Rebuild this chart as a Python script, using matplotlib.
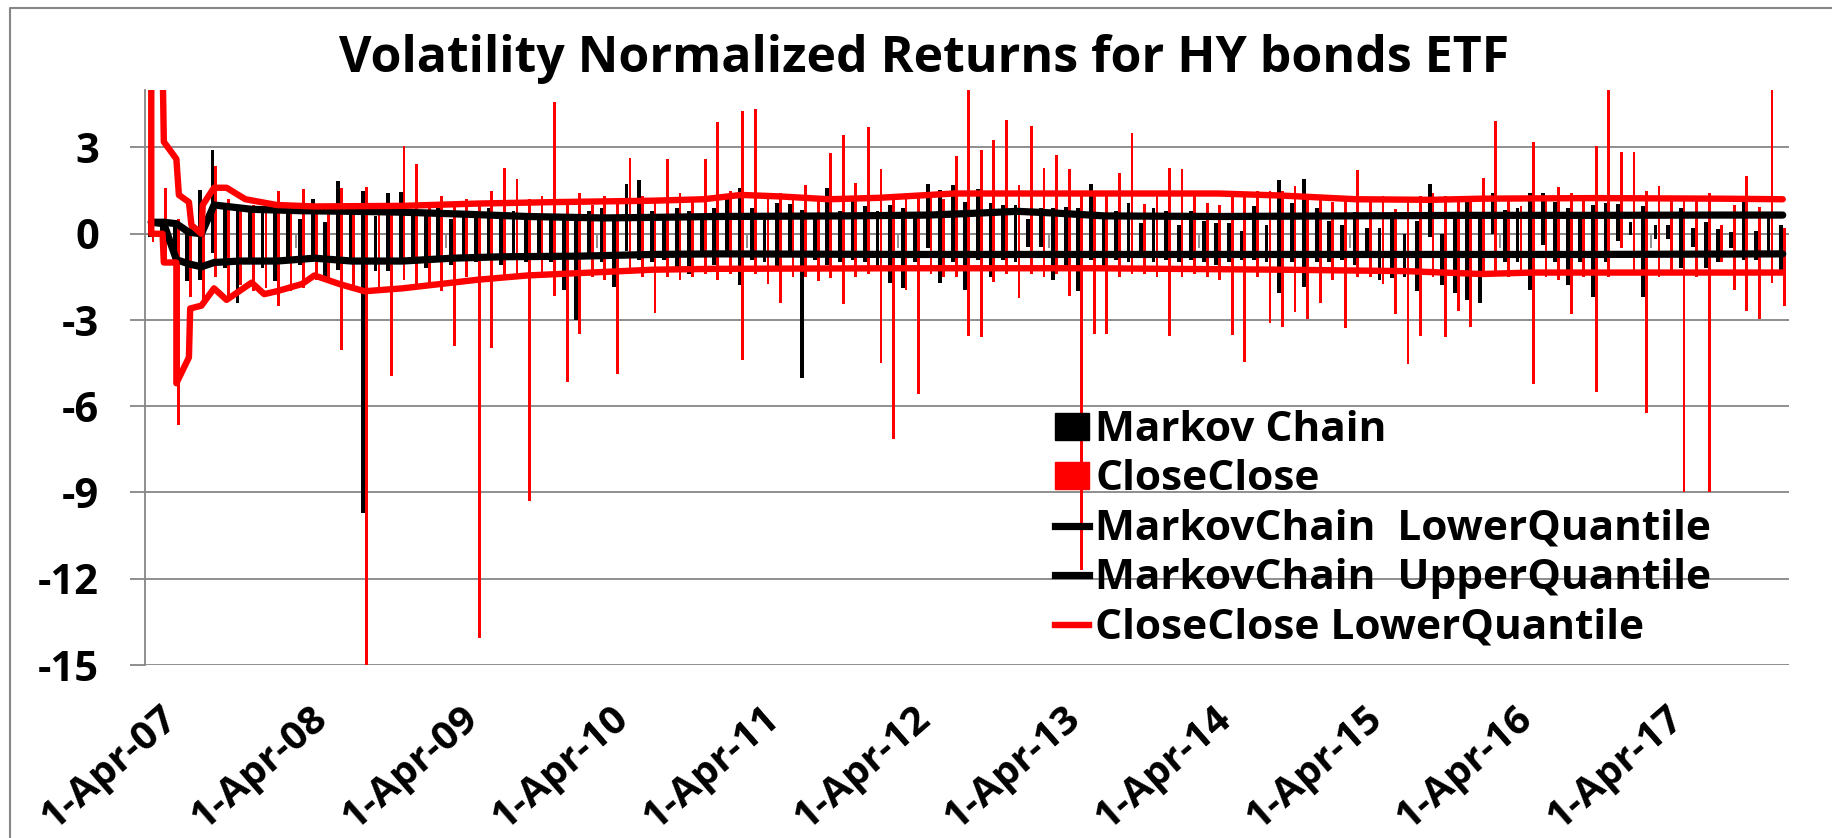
import matplotlib
matplotlib.use("Agg")
import matplotlib.pyplot as plt
from matplotlib.lines import Line2D
from matplotlib.patches import Patch
from matplotlib.transforms import ScaledTranslation
import numpy as np
import pandas as pd

plt.rcParams['font.family'] = ['Open Sans', 'DejaVu Sans']
plt.rcParams['font.weight'] = 'bold'
plt.rcParams['axes.unicode_minus'] = False

# monthly categories, Apr-07 .. Feb-18
months = pd.date_range('2007-04-01', periods=131, freq='MS')

# range of the daily values inside each month (overlapping columns in the original)
mc_hi = [0.35, 0.4, 0.3, 0.2, 1.53, 2.93, 1.0, 0.84, 0.9, 0.8,
         0.97, 0.8, 0.5, 1.2, 0.4, 1.82, 0.8, 1.48, 0.6, 1.4,
         1.45, 0.7, 0.6, 0.9, 0.5, 0.8, 0.7, 0.9, 0.6, 0.8,
         0.6, 0.5, 0.7, 0.6, 0.5, 0.8, 0.9, 0.5, 1.72, 1.88,
         0.8, 0.6, 0.9, 0.8, 0.7, 0.9, 1.2, 1.6, 0.9, 0.7,
         1.07, 1.05, 0.83, 0.7, 1.6, 0.8, 1.3, 0.98, 0.8, 1.0,
         0.9, 0.7, 1.72, 1.52, 1.7, 1.1, 1.56, 1.07, 1.0, 1.0,
         0.5, 0.9, 0.9, 0.93, 0.9, 1.72, 0.5, 0.8, 1.07, 0.38,
         0.9, 0.8, 0.3, 0.8, 0.45, 0.38, 0.38, 0.1, 0.98, 0.3,
         1.86, 1.07, 1.9, 0.9, 0.45, 0.3, 0.75, 0.2, 0.2, 0.5,
         0.0, 0.45, 1.72, 0.0, 0.5, 1.25, 0.7, 1.42, 0.83, 0.9,
         1.42, 1.42, 1.1, 0.9, 0.5, 1.0, 1.08, 1.05, 0.4, 0.98,
         0.3, 0.3, 0.9, 0.2, 0.4, 0.15, 0.05, 1.1, 0.1, 0.6,
         0.3]
mc_lo = [-0.1, -0.5, -1.0, -1.63, -1.6, -0.67, -1.2, -2.42, -1.0, -1.2,
         -1.63, -0.9, -1.1, -0.8, -1.5, -1.26, -1.0, -9.7, -1.3, -1.3,
         -0.9, -1.0, -1.2, -1.0, -1.1, -0.8, -1.0, -0.9, -1.1, -0.7,
         -1.0, -0.9, -1.0, -1.95, -3.0, -0.8, -1.0, -1.86, -0.6, -0.9,
         -1.0, -0.9, -1.2, -1.4, -0.8, -1.1, -0.8, -1.8, -0.9, -1.0,
         -1.2, -0.8, -5.03, -0.9, -1.1, -1.0, -0.9, -1.0, -1.2, -1.7,
         -1.9, -1.0, -0.5, -1.7, -1.0, -1.95, -0.9, -1.5, -0.9, -1.0,
         -0.45, -0.45, -1.6, -1.2, -2.0, -0.9, -1.2, -0.9, -1.0, -0.8,
         -1.0, -0.9, -1.0, -0.9, -1.0, -1.1, -1.0, -0.9, -0.9, -1.0,
         -2.07, -1.0, -1.84, -1.0, -1.0, -0.9, -1.1, -0.85, -1.6, -1.55,
         -1.5, -2.0, -0.13, -1.8, -2.07, -2.3, -2.4, 0.0, -1.0, -1.0,
         -1.95, -0.4, -1.0, -1.8, -1.0, -2.2, -1.0, -0.25, -0.05, -2.2,
         -0.2, -0.2, -1.2, -0.45, -1.2, -1.0, -0.5, -0.9, -0.9, -0.7,
         -1.3]
cc_hi = [0.2, 1.59, 0.5, 0.5, 1.0, 2.35, 1.2, 0.9, 1.0, 1.0,
         1.5, 0.9, 1.57, 1.0, 0.9, 1.6, 1.0, 1.61, 0.9, 0.9,
         3.05, 2.44, 1.0, 1.3, 1.1, 1.2, 1.0, 1.5, 2.27, 1.9,
         1.2, 1.3, 4.58, 1.0, 1.4, 1.0, 1.3, 1.1, 2.64, 1.3,
         1.2, 2.6, 1.4, 1.2, 2.6, 3.88, 1.5, 4.27, 4.33, 1.3,
         1.4, 1.3, 1.68, 1.3, 2.81, 3.42, 1.77, 3.71, 2.25, 1.3,
         1.2, 1.3, 1.3, 1.2, 2.72, 5.0, 2.91, 3.25, 3.97, 1.68,
         3.74, 2.30, 2.75, 2.25, 1.4, 1.3, 1.4, 2.11, 3.51, 1.04,
         1.4, 2.29, 2.25, 1.4, 1.07, 1.0, 1.4, 1.3, 1.48, 1.5,
         1.5, 1.66, 1.3, 1.3, 1.1, 1.3, 2.23, 1.2, 1.3, 0.86,
         1.2, 1.3, 1.4, 1.3, 1.2, 1.3, 1.94, 3.92, 1.2, 0.95,
         3.2, 1.3, 1.62, 1.4, 1.3, 3.05, 5.0, 2.83, 2.86, 1.5,
         1.65, 1.2, 1.3, 1.2, 1.4, 0.3, 1.0, 2.0, 0.93, 5.0,
         0.2]
cc_lo = [-0.3, -0.9, -6.66, -2.2, -2.4, -1.5, -2.2, -1.8, -2.0, -1.9,
         -2.5, -2.0, -1.9, -1.6, -1.7, -4.05, -1.8, -15.0, -2.0, -4.95,
         -1.6, -1.8, -1.7, -2.0, -3.9, -1.5, -14.06, -3.96, -1.6, -1.5,
         -9.28, -1.4, -2.17, -5.15, -3.5, -1.5, -1.6, -4.88, -1.4, -1.5,
         -2.77, -1.5, -1.6, -1.5, -1.4, -1.6, -1.4, -4.4, -1.4, -1.74,
         -2.4, -1.5, -1.5, -1.64, -1.55, -2.45, -1.5, -1.4, -4.49, -7.13,
         -1.95, -5.59, -1.4, -1.5, -1.5, -3.55, -3.6, -1.69, -1.4, -2.24,
         -1.4, -1.5, -1.4, -2.17, -11.7, -3.5, -3.5, -1.5, -1.4, -1.4,
         -1.5, -3.55, -1.5, -1.4, -1.5, -1.6, -3.52, -4.45, -1.5, -3.1,
         -3.25, -2.72, -2.95, -2.4, -1.6, -3.27, -1.5, -1.5, -1.74, -2.8,
         -4.53, -3.55, -1.5, -3.6, -2.7, -3.25, -1.5, -1.4, -1.5, -1.4,
         -5.23, -1.5, -1.6, -2.8, -1.5, -5.5, -1.5, -0.5, -1.4, -6.25,
         -1.5, -1.4, -9.0, -1.5, -9.0, -1.0, -1.95, -2.7, -2.95, -1.7,
         -2.5]

# quantile lines, traced as (month index, value) vertices
mc_upper_m = [0, 1, 2, 3, 4, 5, 6, 8, 12, 16, 20, 25, 30, 36, 40, 45, 55, 62, 66, 69, 72, 76, 85, 95, 105, 115, 125, 130]
mc_upper_v = [0.4, 0.4, 0.35, 0.05, 0.0, 1.0, 0.95, 0.85, 0.8, 0.78, 0.75, 0.68, 0.6, 0.55, 0.57, 0.6, 0.62, 0.65, 0.72, 0.78, 0.72, 0.62, 0.6, 0.62, 0.64, 0.64, 0.65, 0.65]
mc_lower_m = [0, 1, 1.6, 2, 3, 4, 5, 7, 10, 13, 16, 20, 24, 28, 34, 40, 45, 60, 80, 100, 115, 130]
mc_lower_v = [0.4, 0.35, -0.4, -0.9, -1.05, -1.15, -1.0, -0.95, -0.95, -0.85, -0.95, -0.95, -0.85, -0.8, -0.78, -0.72, -0.7, -0.72, -0.72, -0.72, -0.72, -0.7]
cc_upper_m = [0.9, 1, 2, 2.2, 3, 3.2, 4, 4.1, 5, 6, 7.5, 10, 13, 20, 26, 32, 40, 44, 47, 50, 54, 58, 64, 75, 85, 90, 96, 102, 106, 115, 125, 130]
cc_upper_v = [6.0, 3.2, 2.6, 1.35, 1.1, 0.3, 0.0, 1.0, 1.6, 1.6, 1.2, 1.0, 0.95, 0.97, 1.05, 1.1, 1.15, 1.2, 1.35, 1.3, 1.2, 1.25, 1.4, 1.4, 1.4, 1.33, 1.2, 1.18, 1.22, 1.24, 1.22, 1.2]
cc_lower_m = [0, 0, 0.9, 1, 2, 2, 3, 3.1, 4, 5, 6, 7, 8, 9, 10, 12, 13, 15, 17, 20, 23, 26, 30, 35, 40, 45, 60, 75, 90, 100, 106, 110, 120, 130]
cc_lower_v = [6.0, 0.0, 0.0, -1.0, -1.0, -5.2, -4.3, -2.6, -2.5, -1.9, -2.3, -2.0, -1.7, -2.1, -2.0, -1.75, -1.45, -1.75, -2.0, -1.9, -1.75, -1.6, -1.45, -1.35, -1.25, -1.22, -1.2, -1.2, -1.25, -1.3, -1.4, -1.35, -1.35, -1.35]

labels = ['Markov Chain', 'CloseClose', 'MarkovChain  LowerQuantile',
          'MarkovChain  UpperQuantile', 'CloseClose LowerQuantile']

W, H = 1833, 838
fig = plt.figure(figsize=(W / 100, H / 100), dpi=100)
L, R, T, B = 145, 1789, 90, 665
ax = fig.add_axes([L / W, 1 - B / H, (R - L) / W, (B - T) / H])

grey = '#868686'
x = np.arange(len(months))
mc_hi, mc_lo = np.array(mc_hi), np.array(mc_lo)
cc_hi, cc_lo = np.array(cc_hi), np.array(cc_lo)

ax.bar(x - 0.13, mc_hi - mc_lo, bottom=mc_lo, width=0.3, color='black', zorder=2)
ax.bar(x + 0.14, cc_hi - cc_lo, bottom=cc_lo, width=0.22, color='red', zorder=2)

kw = dict(solid_joinstyle='round', solid_capstyle='round', zorder=4)
ax.plot(mc_lower_m, mc_lower_v, color='black', lw=5.2, **kw)
ax.plot(mc_upper_m, mc_upper_v, color='black', lw=5.2, **kw)
ax.plot(cc_lower_m, cc_lower_v, color='red', lw=4.6, **kw)
ax.plot(cc_upper_m, cc_upper_v, color='red', lw=4.6, **kw)

ax.set_xlim(-0.5, len(months) - 0.5)
ax.set_ylim(-15, 5)
ax.set_yticks(np.arange(-15, 4, 3))
ax.yaxis.grid(True, color=grey, lw=1.3, zorder=0)
ax.set_axisbelow(True)
for s in ['top', 'right', 'bottom']:
    ax.spines[s].set_visible(False)
ax.spines['left'].set_color(grey)
ax.spines['left'].set_linewidth(1.3)
ax.tick_params(axis='y', direction='out', length=11, width=1.3, color=grey,
               labelsize=30, pad=22)

# horizontal axis crosses at zero, tick marks between every 12th category
ax.axhline(0, color=grey, lw=1.3, zorder=1)
tick_pos = np.arange(11.5, len(months), 12)
ax.vlines(tick_pos, -0.5, 0, color=grey, lw=1.3, zorder=1)

lab_idx = np.arange(0, len(months), 12)
ax.set_xticks(lab_idx)
ax.set_xticklabels([f"{d.day}-{d:%b-%y}" for d in months[lab_idx]],
                   rotation=41, ha='right', va='top', rotation_mode='anchor')
ax.tick_params(axis='x', length=0, labelsize=29, pad=24)
shift = ScaledTranslation(8 / 100, 0, fig.dpi_scale_trans)
for t in ax.get_xticklabels():
    t.set_transform(t.get_transform() + shift)

handles = [Patch(color='black'), Patch(color='red'),
           Line2D([], [], color='black', lw=5.2), Line2D([], [], color='black', lw=5.2),
           Line2D([], [], color='red', lw=4.6)]
ax.legend(handles, labels, loc='upper left', bbox_to_anchor=(1055 / W, 1 - 410 / H),
          bbox_transform=fig.transFigure, frameon=False, fontsize=30.5,
          handlelength=0.8, handleheight=0.6, handletextpad=0.15,
          labelspacing=0.2, borderpad=0, borderaxespad=0)

fig.text(924 / W, 1 - 72 / H, 'Volatility Normalized Returns for HY bonds ETF',
         ha='center', va='baseline', fontsize=36, fontweight='bold')

# chart-area border (cropped at right and bottom in the original)
fig.add_artist(Line2D([10 / W, 10 / W, 1.0], [0.0, 1 - 8 / H, 1 - 8 / H],
                      transform=fig.transFigure, color=grey, lw=1.5))

fig.savefig('out.png', dpi=100)
